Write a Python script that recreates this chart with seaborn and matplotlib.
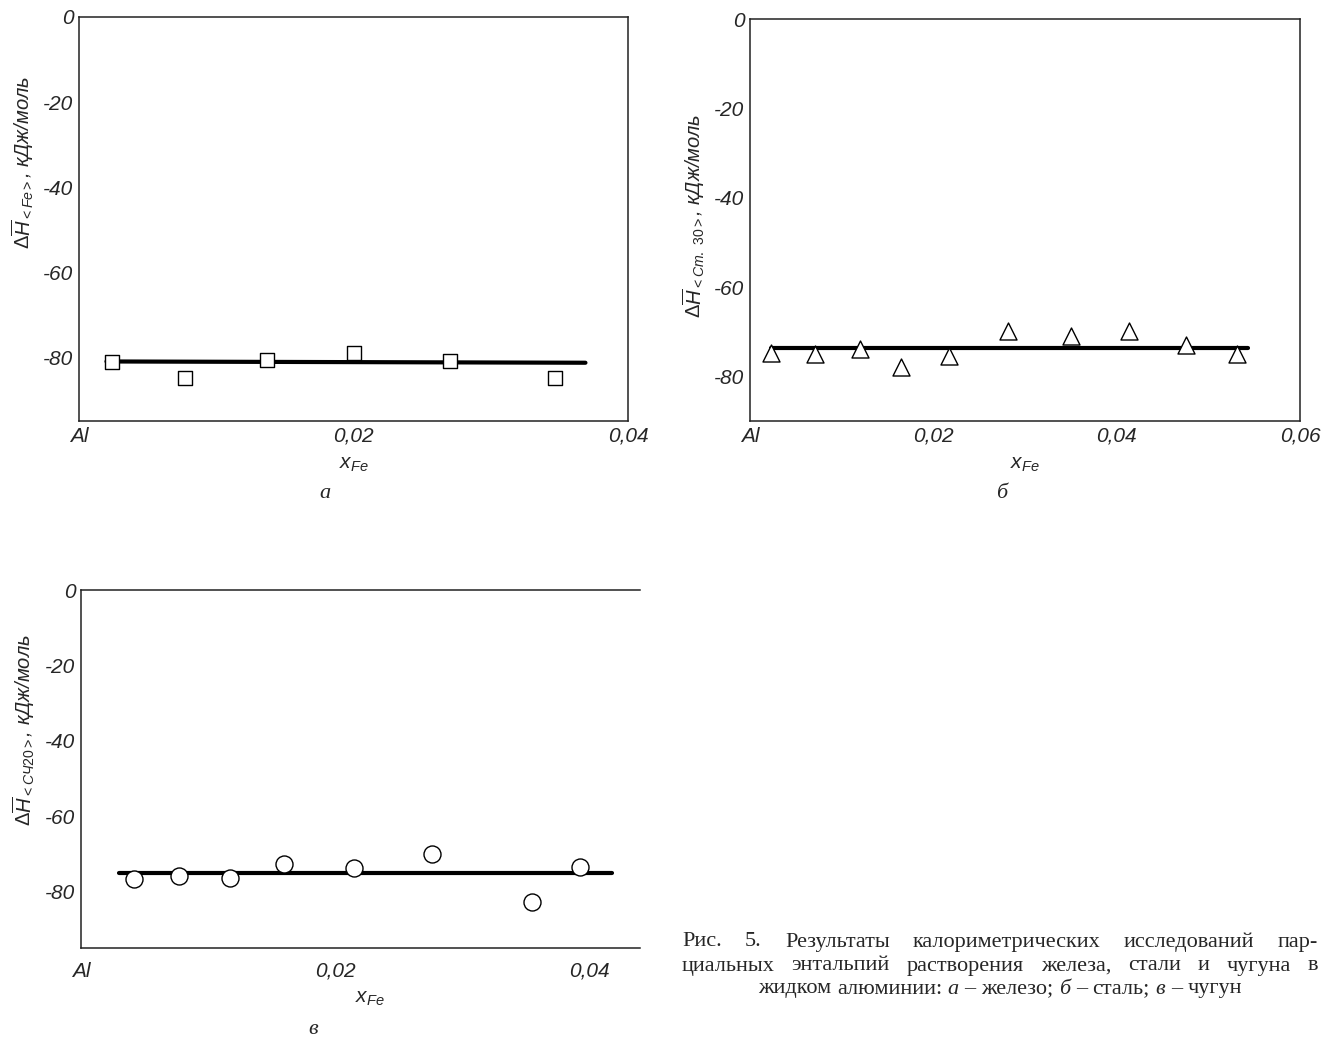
import matplotlib
matplotlib.use("Agg")
import matplotlib.pyplot as plt
import seaborn as sns
import numpy as np

# ---------------- data ----------------
# panel а (iron)
a_x = [0.0024, 0.0077, 0.0137, 0.0200, 0.0270, 0.0347]
a_y = [-81.1, -85.0, -80.7, -79.1, -80.9, -84.9]
a_fit_x = [0.0020, 0.0369]
a_fit_y = [-81.0, -81.3]

# panel б (steel)
b_x = [0.0023, 0.0071, 0.0120, 0.0165, 0.0217, 0.0281, 0.0350, 0.0413, 0.0476, 0.0531]
b_y = [-74.8, -75.0, -73.9, -77.8, -75.5, -69.9, -71.0, -69.8, -72.9, -75.0]
b_fit_x = [0.0023, 0.0543]
b_fit_y = [-73.6, -73.6]

# panel в (cast iron)
c_x = [0.0042, 0.0077, 0.0117, 0.0160, 0.0215, 0.0276, 0.0355, 0.0393]
c_y = [-76.8, -75.9, -76.5, -72.6, -73.8, -70.0, -82.9, -73.6]
c_fit_x = [0.0030, 0.0418]
c_fit_y = [-75.1, -75.1]

y_ticks = [0, -20, -40, -60, -80]
y_tick_labels = ["0", "-20", "-40", "-60", "-80"]
a_xticks = [0, 0.02, 0.04]
a_xticklabels = ["Al", "0,02", "0,04"]
b_xticks = [0, 0.02, 0.04, 0.06]
b_xticklabels = ["Al", "0,02", "0,04", "0,06"]

a_ylabel = r"$\Delta\overline{H}_{<Fe>}$, кДж/моль"
b_ylabel = r"$\Delta\overline{H}_{<Ст.\ 30>}$, кДж/моль"
c_ylabel = r"$\Delta\overline{H}_{<СЧ20>}$, кДж/моль"
x_label = r"$x_{Fe}$"

caption_lines = [
    "Рис. 5. Результаты калориметрических исследований пар-",
    "циальных энтальпий растворения железа, стали и чугуна в",
]
# last caption line: (word, italic?)
caption_last = [("жидком", False), ("алюминии:", False), ("а", True), ("–", False),
                 ("железо;", False), ("б", True), ("–", False), ("сталь;", False),
                 ("в", True), ("–", False), ("чугун", False)]

# ---------------- style ----------------
sns.set_style("white")
plt.rcParams["font.family"] = ["Liberation Sans", "DejaVu Sans"]
plt.rcParams["mathtext.fontset"] = "custom"
plt.rcParams["mathtext.rm"] = "Liberation Sans"
plt.rcParams["mathtext.it"] = "Liberation Sans:italic"
plt.rcParams["mathtext.bf"] = "Liberation Sans:bold"

W, H = 1326, 1037
fig = plt.figure(figsize=(W / 100, H / 100), dpi=100)


def px_axes(left, top, right, bottom):
    return fig.add_axes([left / W, 1 - bottom / H, (right - left) / W, (bottom - top) / H])


def style_axes(ax, xlim, ylim, xticks, xticklabels, ylabel, ylabel_pos, xpad, xlabpad):
    ax.set_xlim(*xlim)
    ax.set_ylim(*ylim)
    ax.set_xticks(xticks)
    ax.set_xticklabels(xticklabels, fontstyle="italic", fontsize=15)
    ax.set_yticks(y_ticks)
    ax.set_yticklabels(y_tick_labels, fontstyle="italic", fontsize=15)
    ax.tick_params(direction="in", length=6, width=1, color="#222222", pad=4)
    ax.tick_params(axis="x", pad=xpad)
    ax.set_ylabel(ylabel, fontstyle="italic", fontsize=14.5, labelpad=2)
    ax.yaxis.set_label_coords(-0.078, ylabel_pos)
    ax.set_xlabel(x_label, fontsize=15, labelpad=xlabpad)
    for s in ax.spines.values():
        s.set_color("#222222")
        s.set_linewidth(1.1)


def draw(ax, x, y, fx, fy, marker, size):
    sns.lineplot(x=fx, y=fy, ax=ax, color="black", linewidth=3, zorder=2)
    sns.scatterplot(x=x, y=y, ax=ax, marker=marker, s=size, facecolor="white",
                    edgecolor="black", linewidth=1.0, zorder=3)


# panel а
ax1 = px_axes(79, 17, 628, 421)
draw(ax1, a_x, a_y, a_fit_x, a_fit_y, "s", 110)
style_axes(ax1, (0, 0.04), (-95, 0), a_xticks, a_xticklabels, a_ylabel, 0.64, 4, 7)

# panel б
ax2 = px_axes(750, 19, 1300, 421)
draw(ax2, b_x, b_y, b_fit_x, b_fit_y, "^", 150)
style_axes(ax2, (0, 0.06), (-90, 0), b_xticks, b_xticklabels, b_ylabel, 0.51, 4, 7)

# panel в
ax3 = px_axes(81, 590, 640, 948)
draw(ax3, c_x, c_y, c_fit_x, c_fit_y, "o", 150)
style_axes(ax3, (0, 0.044), (-95, 0), a_xticks, a_xticklabels, c_ylabel, 0.61, 10, 6)
ax3.spines["right"].set_visible(False)
ax3.xaxis.set_label_coords(0.517, -0.115)

# panel letters
for (lx, ly, lt) in [(325, 494, "а"), (1002, 494, "б"), (313, 1030, "в")]:
    fig.text(lx / W, 1 - ly / H, lt, family="Liberation Serif", style="italic",
             fontsize=16, ha="center", va="center")

# caption
renderer = fig.canvas.get_renderer()
cap_left, cap_right = 682, 1318
cap_y = [942, 966, 989]
cap_fs = 16
serif = "Liberation Serif"
for i, line in enumerate(caption_lines):
    yy = 1 - cap_y[i] / H
    words = line.split(" ")
    texts = [fig.text(0, yy, w, family=serif, fontsize=cap_fs, ha="left", va="center")
             for w in words]
    widths = [t.get_window_extent(renderer).width for t in texts]
    gap = ((cap_right - cap_left) - sum(widths)) / (len(words) - 1)
    xpos = cap_left
    for t, w in zip(texts, widths):
        t.set_x(xpos / W)
        xpos += w + gap

# last line, centered, with italic letters
probe2 = fig.text(0, 0, "a a", family=serif, fontsize=cap_fs)
probe1 = fig.text(0, 0, "aa", family=serif, fontsize=cap_fs)
space_w = probe2.get_window_extent(renderer).width - probe1.get_window_extent(renderer).width
probe1.remove()
probe2.remove()
yy = 1 - cap_y[2] / H
texts = [fig.text(0, yy, w, family=serif, fontsize=cap_fs,
                  style="italic" if it else "normal", ha="left", va="center")
         for w, it in caption_last]
widths = [t.get_window_extent(renderer).width for t in texts]
total = sum(widths) + space_w * (len(texts) - 1)
xpos = (cap_left + cap_right) / 2 - total / 2
for t, w in zip(texts, widths):
    t.set_x(xpos / W)
    xpos += w + space_w

fig.savefig("out.png", dpi=100, facecolor="white")
